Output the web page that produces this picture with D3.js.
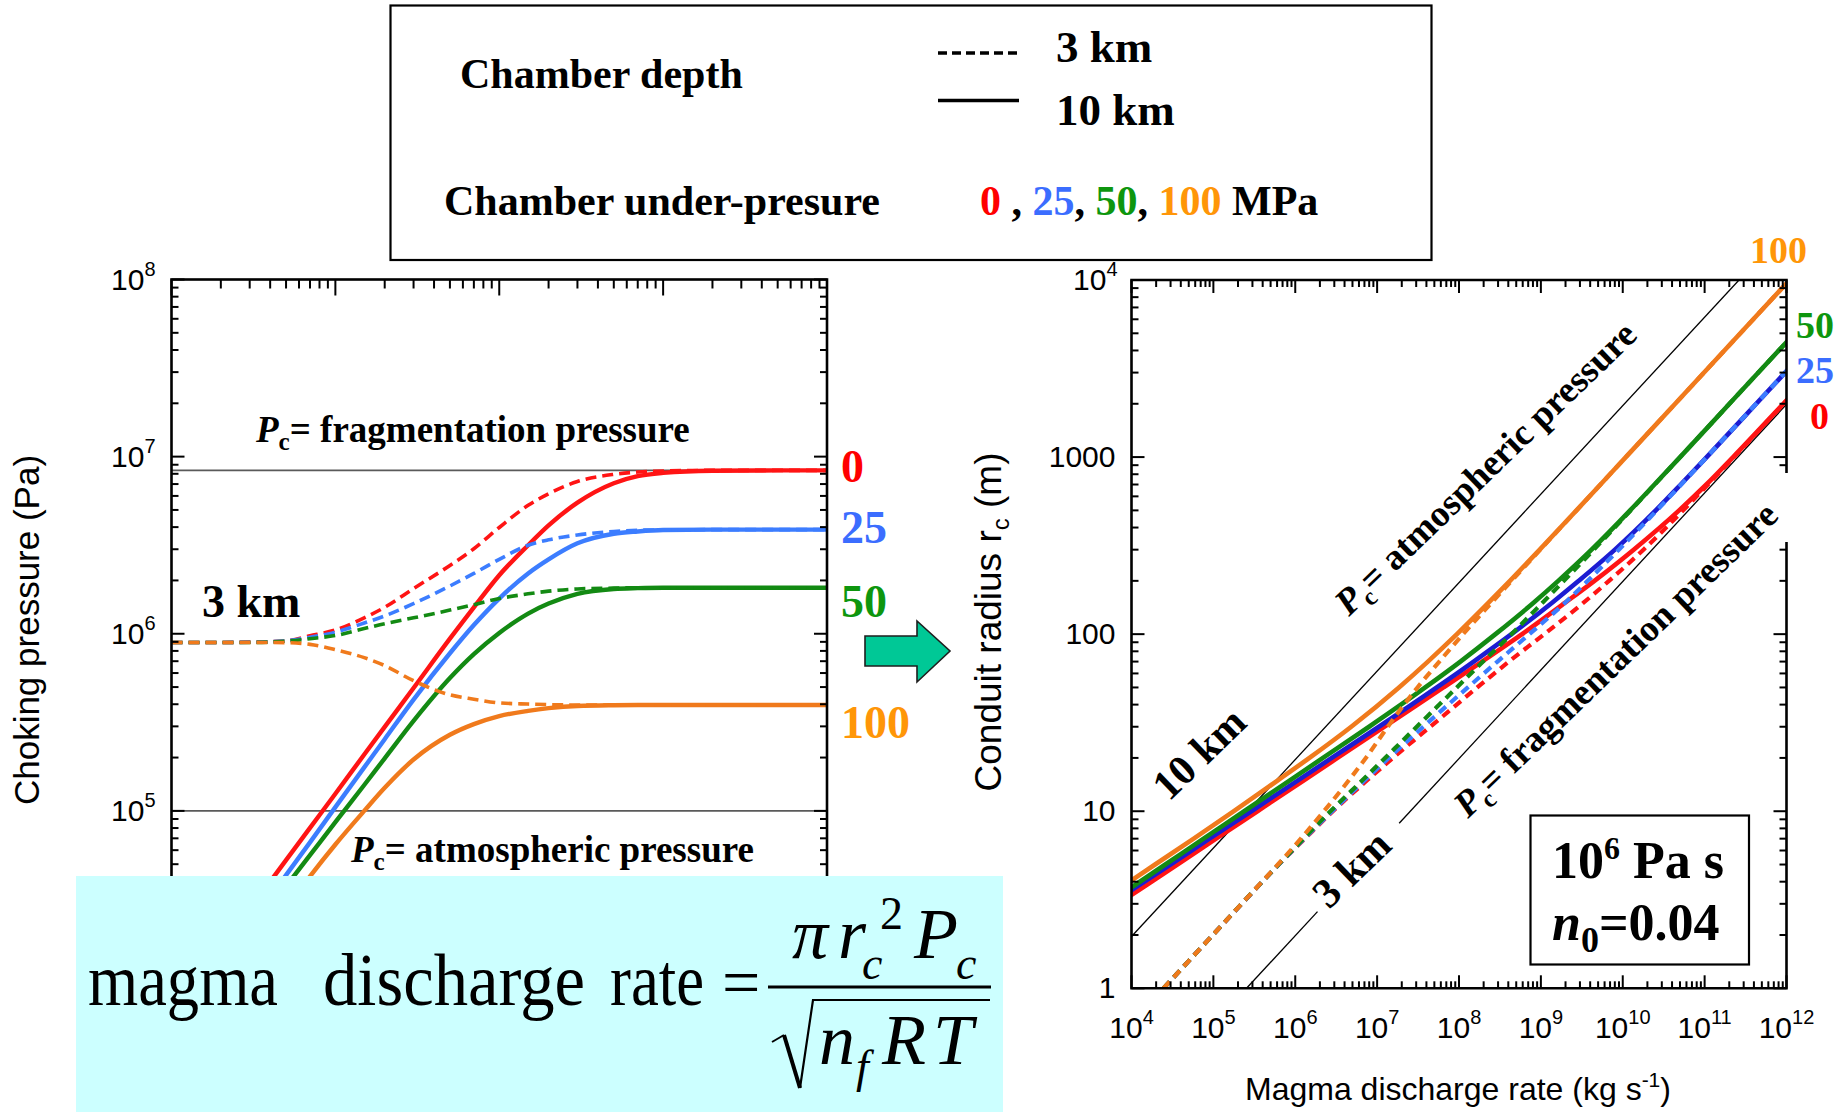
<!DOCTYPE html>
<html>
<head>
<meta charset="utf-8">
<script src="https://cdn.jsdelivr.net/npm/d3@7"></script>
<style>
  html, body { margin: 0; padding: 0; background: #ffffff; }
  svg { display: block; }
</style>
</head>
<body>
<svg id="fig" width="1843" height="1112"></svg>
<script>
// ---------------------------------------------------------------
// Data
// ---------------------------------------------------------------
// Conduit radius grid (m) shared by every curve
const radiusGrid = [1, 2, 3, 5, 7, 10, 15, 20, 30, 50, 70, 100, 150, 200, 300, 500, 700, 1000, 2000, 5000, 10000];

// Chamber under-pressure levels (MPa)
const underPressures = [0, 25, 50, 100];

// Choking pressure Pc (Pa) versus conduit radius, chamber depth 10 km
const pc10km_0   = [null, 1.67e4, 2.78e4, 5.27e4, 8.02e4, 1.25e5, 2.08e5, 2.98e5, 4.94e5, 9.38e5, 1.41e6, 2.14e6, 3.16e6, 4.09e6, 5.50e6, 7.08e6, 7.76e6, 8.09e6, 8.32e6, 8.36e6, 8.36e6];
const pc10km_25  = [null, 1.35e4, 2.26e4, 4.34e4, 6.64e4, 1.05e5, 1.76e5, 2.54e5, 4.25e5, 7.76e5, 1.12e6, 1.58e6, 2.19e6, 2.63e6, 3.24e6, 3.67e6, 3.78e6, 3.85e6, 3.87e6, 3.87e6, 3.87e6];
const pc10km_50  = [null, 1.25e4, 2.03e4, 3.76e4, 5.62e4, 8.63e4, 1.40e5, 1.98e5, 3.22e5, 5.62e5, 7.67e5, 1.01e6, 1.30e6, 1.48e6, 1.68e6, 1.79e6, 1.81e6, 1.82e6, 1.82e6, 1.82e6, 1.82e6];
const pc10km_100 = [null, 8.90e3, 1.51e4, 2.82e4, 4.27e4, 6.46e4, 1.00e5, 1.35e5, 1.95e5, 2.69e5, 3.09e5, 3.43e5, 3.67e5, 3.80e5, 3.91e5, 3.95e5, 3.96e5, 3.96e5, 3.96e5, 3.96e5, 3.96e5];

// Choking pressure Pc (Pa) versus conduit radius, chamber depth 3 km
const pc3km_0   = [8.93e5, 8.93e5, 8.97e5, 9.12e5, 9.73e5, 1.05e6, 1.23e6, 1.41e6, 1.80e6, 2.43e6, 3.02e6, 3.98e6, 5.31e6, 6.17e6, 7.24e6, 7.94e6, 8.18e6, 8.30e6, 8.36e6, 8.36e6, 8.36e6];
const pc3km_25  = [8.93e5, 8.93e5, 8.95e5, 9.12e5, 9.55e5, 1.02e6, 1.15e6, 1.26e6, 1.48e6, 1.86e6, 2.19e6, 2.63e6, 3.16e6, 3.39e6, 3.61e6, 3.78e6, 3.84e6, 3.86e6, 3.87e6, 3.87e6, 3.87e6];
const pc3km_50  = [8.93e5, 8.93e5, 8.93e5, 9.08e5, 9.38e5, 9.77e5, 1.07e6, 1.14e6, 1.23e6, 1.36e6, 1.46e6, 1.58e6, 1.68e6, 1.74e6, 1.79e6, 1.81e6, 1.82e6, 1.82e6, 1.82e6, 1.82e6, 1.82e6];
const pc3km_100 = [8.93e5, 8.93e5, 8.93e5, 8.91e5, 8.71e5, 8.13e5, 7.33e5, 6.61e5, 5.43e5, 4.52e5, 4.27e5, 4.07e5, 4.01e5, 3.98e5, 3.96e5, 3.96e5, 3.96e5, 3.96e5, 3.96e5, 3.96e5, 3.96e5];

// Magma discharge rate (kg/s) at each conduit radius, chamber depth 10 km
const rate10km_0   = [null, 1.85e3, 6.89e3, 3.63e4, 1.08e5, 3.45e5, 1.29e6, 3.28e6, 1.22e7, 6.46e7, 1.91e8, 5.89e8, 1.96e9, 4.51e9, 1.36e10, 4.88e10, 1.05e11, 2.23e11, 9.16e11, 5.75e12, null];
const rate10km_25  = [null, 1.49e3, 5.61e3, 2.99e4, 8.95e4, 2.90e5, 1.09e6, 2.79e6, 1.05e7, 5.35e7, 1.51e8, 4.37e8, 1.36e9, 2.90e9, 8.02e9, 2.53e10, 5.11e10, 1.06e11, 4.27e11, 2.67e12, null];
const rate10km_50  = [null, 1.38e3, 5.04e3, 2.59e4, 7.59e4, 2.38e5, 8.69e5, 2.18e6, 7.98e6, 3.87e7, 1.04e8, 2.79e8, 8.07e8, 1.63e9, 4.16e9, 1.23e10, 2.44e10, 5.02e10, 2.01e11, 1.26e12, null];
const rate10km_100 = [null, null, 3.75e3, 1.94e4, 5.75e4, 1.78e5, 6.19e5, 1.49e6, 4.83e6, 1.85e7, 4.17e7, 9.44e7, 2.28e8, 4.19e8, 9.68e8, 2.72e9, 5.35e9, 1.09e10, 4.37e10, 2.73e11, 1.09e12];

// Magma discharge rate (kg/s) at each conduit radius, chamber depth 3 km
const rate3km_0   = [2.46e4, 9.84e4, 2.22e5, 6.28e5, 1.31e6, 2.88e6, 7.62e6, 1.56e7, 4.46e7, 1.67e8, 4.07e8, 1.10e9, 3.29e9, 6.79e9, 1.79e10, 5.47e10, 1.10e11, 2.29e11, 9.20e11, 5.75e12, null];
const rate3km_25  = [2.46e4, 9.84e4, 2.22e5, 6.28e5, 1.29e6, 2.82e6, 7.11e6, 1.39e7, 3.66e7, 1.28e8, 2.95e8, 7.24e8, 1.96e9, 3.73e9, 8.95e9, 2.61e10, 5.18e10, 1.06e11, 4.27e11, 2.67e12, null];
const rate3km_50  = [2.46e4, 9.84e4, 2.21e5, 6.25e5, 1.26e6, 2.69e6, 6.64e6, 1.25e7, 3.05e7, 9.40e7, 1.97e8, 4.37e8, 1.04e9, 1.91e9, 4.43e9, 1.25e10, 2.46e10, 5.02e10, 2.01e11, 1.26e12, null];
const rate3km_100 = [2.46e4, 9.84e4, 2.21e5, 6.14e5, 1.17e6, 2.24e6, 4.54e6, 7.28e6, 1.35e7, 3.11e7, 5.75e7, 1.12e8, 2.48e8, 4.39e8, 9.82e8, 2.73e9, 5.35e9, 1.09e10, 4.37e10, 2.73e11, 1.09e12];

// Reference pressures (Pa)
const fragmentationPressure = 8.36e6;
const atmosphericPressure = 1e5;

// Reference lines in the radius / discharge-rate plane
const atmLineRate = [1e4, 2.63e11];
const atmLineRadius = [1.96, 1e4];
const fragLineRate = [2.54e5, 1.87e6, 1.86e7, 1e12];
const fragLineRadius = [1, 2.71, 8.55, 1984];

// Axis tick exponents
const leftYExponents = [5, 6, 7, 8];
const rightXExponents = [4, 5, 6, 7, 8, 9, 10, 11, 12];
const rightYLabels = ["1", "10", "100", "1000"];

// ---------------------------------------------------------------
// Styling
// ---------------------------------------------------------------
const SERIF = '"Liberation Serif","Times New Roman",Times,serif';
const SANS = '"Liberation Sans",Arial,Helvetica,sans-serif';

const lineColor = { 0: "#ff1414", 25: "#3c7dff", 50: "#138a13", 100: "#f07a1c" };
const lineColorRight = { 0: "#ff1414", 25: "#1c1cd2", 50: "#138a13", 100: "#f07a1c" };
const dashColorRight = { 0: "#ff1414", 25: "#3c7dff", 50: "#138a13", 100: "#f07a1c" };
const labelColor = { 0: "#ff0000", 25: "#3b6dff", 50: "#0e960e", 100: "#ff9608" };

const series = [
  { depth: 10, mpa: 0,   pc: pc10km_0,   rate: rate10km_0 },
  { depth: 10, mpa: 25,  pc: pc10km_25,  rate: rate10km_25 },
  { depth: 10, mpa: 50,  pc: pc10km_50,  rate: rate10km_50 },
  { depth: 10, mpa: 100, pc: pc10km_100, rate: rate10km_100 },
  { depth: 3,  mpa: 0,   pc: pc3km_0,    rate: rate3km_0 },
  { depth: 3,  mpa: 25,  pc: pc3km_25,   rate: rate3km_25 },
  { depth: 3,  mpa: 50,  pc: pc3km_50,   rate: rate3km_50 },
  { depth: 3,  mpa: 100, pc: pc3km_100,  rate: rate3km_100 }
];

// ---------------------------------------------------------------
// Layout and scales
// ---------------------------------------------------------------
const svg = d3.select("#fig");

const L = { x0: 171.5, x1: 827, y0: 279.5, y1: 988 };
const R = { x0: 1131.5, x1: 1786.5, y0: 280, y1: 988.3 };

const xL = d3.scaleLog().domain([1, 1e4]).range([L.x0, L.x1]);
const yL = d3.scaleLog().domain([1e4, 1e8]).range([L.y1, L.y0]);
const xR = d3.scaleLog().domain([1e4, 1e12]).range([R.x0, R.x1]);
const yR = d3.scaleLog().domain([1, 1e4]).range([R.y1, R.y0]);

const defs = svg.append("defs");
defs.append("clipPath").attr("id", "clipL").append("rect")
  .attr("x", L.x0).attr("y", L.y0).attr("width", L.x1 - L.x0).attr("height", L.y1 - L.y0);
defs.append("clipPath").attr("id", "clipR").append("rect")
  .attr("x", R.x0).attr("y", R.y0).attr("width", R.x1 - R.x0).attr("height", R.y1 - R.y0);

const isDecade = v => Math.abs(Math.log10(v) - Math.round(Math.log10(v))) < 1e-6;

// Inward tick marks along one side of a frame
function ticks(g, scale, side, pos, majorLen, minorLen, skip) {
  const vals = scale.ticks(40);
  vals.forEach(v => {
    const p = scale(v);
    if (skip && skip(p)) return;
    const len = isDecade(v) ? majorLen : minorLen;
    let x1, y1, x2, y2;
    if (side === "top")    { x1 = x2 = p; y1 = pos; y2 = pos + len; }
    if (side === "bottom") { x1 = x2 = p; y1 = pos; y2 = pos - len; }
    if (side === "left")   { y1 = y2 = p; x1 = pos; x2 = pos + len; }
    if (side === "right")  { y1 = y2 = p; x1 = pos; x2 = pos - len; }
    g.append("line").attr("x1", x1).attr("y1", y1).attr("x2", x2).attr("y2", y2)
      .attr("stroke", "#000").attr("stroke-width", 2);
  });
}

// "10^n" label with a raised exponent
function powerLabel(g, x, y, exp, anchor) {
  const t = g.append("text").attr("x", x).attr("y", y)
    .attr("font-family", SANS).attr("font-size", 30).attr("text-anchor", anchor).attr("fill", "#000");
  t.append("tspan").text("10");
  t.append("tspan").attr("font-size", 20).attr("dy", -14).text(exp);
  return t;
}

// ---------------------------------------------------------------
// Left panel: choking pressure vs conduit radius
// ---------------------------------------------------------------
const gL = svg.append("g");

// reference pressure levels
gL.append("line").attr("x1", L.x0).attr("x2", L.x1)
  .attr("y1", yL(fragmentationPressure)).attr("y2", yL(fragmentationPressure))
  .attr("stroke", "#5a5a5a").attr("stroke-width", 1.6);
gL.append("line").attr("x1", L.x0).attr("x2", L.x1)
  .attr("y1", yL(atmosphericPressure)).attr("y2", yL(atmosphericPressure))
  .attr("stroke", "#5a5a5a").attr("stroke-width", 1.6);

const lineL = d3.line()
  .defined(d => d.pc != null)
  .x(d => xL(d.r)).y(d => yL(d.pc))
  .curve(d3.curveMonotoneX);

const curvesL = gL.append("g").attr("clip-path", "url(#clipL)");
[10, 3].forEach(depth => {
  series.filter(s => s.depth === depth).forEach(s => {
    const pts = radiusGrid.map((r, i) => ({ r, pc: s.pc[i] }));
    curvesL.append("path").datum(pts).attr("d", lineL)
      .attr("fill", "none").attr("stroke", lineColor[s.mpa])
      .attr("stroke-width", depth === 10 ? 4.4 : 3.6)
      .attr("stroke-dasharray", depth === 3 ? "11,6" : null);
  });
});

// frame and ticks
gL.append("rect").attr("x", L.x0).attr("y", L.y0).attr("width", L.x1 - L.x0).attr("height", L.y1 - L.y0)
  .attr("fill", "none").attr("stroke", "#000").attr("stroke-width", 2.6);
ticks(gL, xL, "top", L.y0, 16, 9);
ticks(gL, xL, "bottom", L.y1, 14, 8);
ticks(gL, yL, "left", L.x0, 13, 7);
ticks(gL, yL, "right", L.x1, 13, 7);

leftYExponents.forEach(e => powerLabel(gL, L.x0 - 16, yL(Math.pow(10, e)) + 10, e, "end"));

gL.append("text").attr("transform", "translate(39,630) rotate(-90)")
  .attr("font-family", SANS).attr("font-size", 35).attr("text-anchor", "middle")
  .text("Choking pressure (Pa)");

// curve-end labels
const leftLabelY = { 0: 482, 25: 543, 50: 617, 100: 738 };
underPressures.forEach(p => {
  gL.append("text").attr("x", 841).attr("y", leftLabelY[p])
    .attr("font-family", SERIF).attr("font-weight", "bold").attr("font-size", 46)
    .attr("fill", labelColor[p]).text(p);
});

gL.append("text").attr("x", 202).attr("y", 617)
  .attr("font-family", SERIF).attr("font-weight", "bold").attr("font-size", 46).text("3 km");

function pcText(g, x, y, rest, size, transform) {
  const t = g.append("text").attr("font-family", SERIF).attr("font-weight", "bold").attr("font-size", size);
  if (transform) t.attr("transform", transform); else t.attr("x", x).attr("y", y);
  t.append("tspan").attr("font-style", "italic").text("P");
  t.append("tspan").attr("font-size", size * 0.68).attr("dy", size * 0.22).text("c");
  t.append("tspan").attr("dy", -size * 0.22).text(rest);
  return t;
}
pcText(gL, 256, 442, "= fragmentation pressure", 37);
pcText(gL, 351, 862, "= atmospheric pressure", 37);

// ---------------------------------------------------------------
// Right panel: conduit radius vs magma discharge rate
// ---------------------------------------------------------------
const gR = svg.append("g");
const refR = gR.append("g").attr("clip-path", "url(#clipR)");

const refLine = d3.line().x(d => xR(d[0])).y(d => yR(d[1]));
refR.append("path").datum(atmLineRate.map((v, i) => [v, atmLineRadius[i]])).attr("d", refLine)
  .attr("fill", "none").attr("stroke", "#000").attr("stroke-width", 1.3);
[[0, 1], [2, 3]].forEach(seg => {
  refR.append("path").datum(seg.map(i => [fragLineRate[i], fragLineRadius[i]])).attr("d", refLine)
    .attr("fill", "none").attr("stroke", "#000").attr("stroke-width", 1.3);
});

const lineR = d3.line()
  .defined(d => d.rate != null)
  .x(d => xR(d.rate)).y(d => yR(d.r))
  .curve(d3.curveMonotoneX);

const curvesR = gR.append("g").attr("clip-path", "url(#clipR)");
[10, 3].forEach(depth => {
  series.filter(s => s.depth === depth).forEach(s => {
    const pts = radiusGrid.map((r, i) => ({ r, rate: s.rate[i] }));
    curvesR.append("path").datum(pts).attr("d", lineR)
      .attr("fill", "none")
      .attr("stroke", depth === 10 ? lineColorRight[s.mpa] : dashColorRight[s.mpa])
      .attr("stroke-width", depth === 10 ? 4.6 : 4.2)
      .attr("stroke-dasharray", depth === 3 ? "9,6" : null);
  });
});

// frame (right edge interrupted where the rotated label crosses it)
const gapTop = 473, gapBottom = 542;
gR.append("path")
  .attr("d", `M${R.x1},${gapTop} L${R.x1},${R.y0} L${R.x0},${R.y0} L${R.x0},${R.y1} L${R.x1},${R.y1} L${R.x1},${gapBottom}`)
  .attr("fill", "none").attr("stroke", "#000").attr("stroke-width", 2.6);
ticks(gR, xR, "top", R.y0, 13, 7);
ticks(gR, xR, "bottom", R.y1, 13, 7);
ticks(gR, yR, "left", R.x0, 13, 7);
ticks(gR, yR, "right", R.x1, 13, 7, p => p > gapTop - 2 && p < gapBottom + 2);

rightXExponents.forEach(e => powerLabel(gR, xR(Math.pow(10, e)), 1038, e, "middle"));
rightYLabels.forEach(lbl => {
  gR.append("text").attr("x", R.x0 - 16).attr("y", yR(+lbl) + 10)
    .attr("font-family", SANS).attr("font-size", 30).attr("text-anchor", "end").text(lbl);
});
powerLabel(gR, R.x0 - 14, yR(1e4) + 10, 4, "end");

gR.append("text").attr("x", 1458).attr("y", 1100)
  .attr("font-family", SANS).attr("font-size", 32).attr("text-anchor", "middle")
  .call(t => {
    t.append("tspan").text("Magma discharge rate (kg s");
    t.append("tspan").attr("font-size", 21).attr("dy", -13).text("-1");
    t.append("tspan").attr("dy", 13).text(")");
  });

gR.append("text").attr("transform", "translate(1001,622) rotate(-90)")
  .attr("font-family", SANS).attr("font-size", 37).attr("text-anchor", "middle")
  .call(t => {
    t.append("tspan").text("Conduit radius r");
    t.append("tspan").attr("font-size", 24).attr("dy", 8).text("c");
    t.append("tspan").attr("dy", -8).text(" (m)");
  });

// curve-end labels outside the frame
const rightLabels = [
  { p: 100, x: 1750, y: 263 },
  { p: 50,  x: 1796, y: 338 },
  { p: 25,  x: 1796, y: 383 },
  { p: 0,   x: 1810, y: 429 }
];
rightLabels.forEach(d => {
  gR.append("text").attr("x", d.x).attr("y", d.y)
    .attr("font-family", SERIF).attr("font-weight", "bold").attr("font-size", 38)
    .attr("fill", labelColor[d.p]).text(d.p);
});

pcText(gR, 0, 0, "= atmospheric pressure", 37, "translate(1349,617) rotate(-44)");
pcText(gR, 0, 0, "= fragmentation pressure", 37, "translate(1468,819) rotate(-44)");

gR.append("text").attr("transform", "translate(1169,802) rotate(-44)")
  .attr("font-family", SERIF).attr("font-weight", "bold").attr("font-size", 42).text("10 km");
gR.append("text").attr("transform", "translate(1329,910) rotate(-44)")
  .attr("font-family", SERIF).attr("font-weight", "bold").attr("font-size", 42).text("3 km");

// parameter box
gR.append("rect").attr("x", 1530.5).attr("y", 815.5).attr("width", 218.5).attr("height", 149)
  .attr("fill", "#fff").attr("stroke", "#000").attr("stroke-width", 2.2);
gR.append("text").attr("x", 1552).attr("y", 878)
  .attr("font-family", SERIF).attr("font-weight", "bold").attr("font-size", 52)
  .call(t => {
    t.append("tspan").text("10");
    t.append("tspan").attr("font-size", 32).attr("dy", -19).text("6");
    t.append("tspan").attr("dy", 19).text(" Pa s");
  });
gR.append("text").attr("x", 1552).attr("y", 940)
  .attr("font-family", SERIF).attr("font-weight", "bold").attr("font-size", 52)
  .call(t => {
    t.append("tspan").attr("font-style", "italic").text("n");
    t.append("tspan").attr("font-size", 36).attr("dy", 12).text("0");
    t.append("tspan").attr("dy", -12).text("=0.04");
  });

// ---------------------------------------------------------------
// Legend
// ---------------------------------------------------------------
const gLeg = svg.append("g");
gLeg.append("rect").attr("x", 390.5).attr("y", 5.5).attr("width", 1041).attr("height", 254.5)
  .attr("fill", "#fff").attr("stroke", "#000").attr("stroke-width", 2.2);
const legText = (x, y, s, size) => gLeg.append("text").attr("x", x).attr("y", y)
  .attr("font-family", SERIF).attr("font-weight", "bold").attr("font-size", size || 42).text(s);
legText(460, 88, "Chamber depth");
legText(1056, 62, "3 km", 45);
legText(1056, 125, "10 km", 45);
legText(444, 215, "Chamber under-presure");
gLeg.append("line").attr("x1", 938).attr("x2", 1019).attr("y1", 53).attr("y2", 53)
  .attr("stroke", "#000").attr("stroke-width", 3.5).attr("stroke-dasharray", "9,5");
gLeg.append("line").attr("x1", 938).attr("x2", 1019).attr("y1", 100.5).attr("y2", 100.5)
  .attr("stroke", "#000").attr("stroke-width", 3.5);
gLeg.append("text").attr("x", 980).attr("y", 215)
  .attr("font-family", SERIF).attr("font-weight", "bold").attr("font-size", 42)
  .call(t => {
    underPressures.forEach((p, i) => {
      t.append("tspan").attr("fill", labelColor[p]).text(p);
      if (i === 0) t.append("tspan").attr("fill", "#000").text(" , ");
      else if (i < underPressures.length - 1) t.append("tspan").attr("fill", "#000").text(", ");
    });
    t.append("tspan").attr("fill", "#000").text(" MPa");
  });

// ---------------------------------------------------------------
// Arrow between the panels
// ---------------------------------------------------------------
svg.append("polygon")
  .attr("points", "865,636 917,636 917,621 950,651 917,682 917,666 865,666")
  .attr("fill", "#00c896").attr("stroke", "#1e1e1e").attr("stroke-width", 1.6);

// ---------------------------------------------------------------
// Discharge-rate relation
// ---------------------------------------------------------------
const gEq = svg.append("g");
gEq.append("rect").attr("x", 76).attr("y", 876).attr("width", 927).attr("height", 236).attr("fill", "#ccffff");

const eqWord = (x, w, s) => gEq.append("text").attr("x", x).attr("y", 1005)
  .attr("font-family", SERIF).attr("font-size", 74)
  .attr("textLength", w).attr("lengthAdjust", "spacingAndGlyphs").text(s);
eqWord(88, 190, "magma");
eqWord(323, 262, "discharge");
eqWord(610, 94, "rate");
gEq.append("text").attr("x", 722).attr("y", 1005).attr("font-family", SERIF).attr("font-size", 68).text("=");

gEq.append("line").attr("x1", 768).attr("x2", 991).attr("y1", 987).attr("y2", 987)
  .attr("stroke", "#000").attr("stroke-width", 3);

const eqPart = (x, y, s, size, italic) => gEq.append("text").attr("x", x).attr("y", y)
  .attr("font-family", SERIF).attr("font-size", size).attr("font-style", italic ? "italic" : "normal").text(s);
// numerator
eqPart(792, 958, "\u03c0", 72, true);
eqPart(838, 958, "r", 72, true);
eqPart(862, 979, "c", 46, true);
eqPart(880, 929, "2", 46, false);
eqPart(914, 958, "P", 72, true);
eqPart(956, 979, "c", 46, true);
// denominator
eqPart(819, 1064, "n", 72, true);
eqPart(856, 1082, "f", 46, true);
eqPart(882, 1064, "R", 72, true);
eqPart(933, 1064, "T", 72, true);
gEq.append("path").attr("d", "M772,1042 L784,1035").attr("stroke", "#000").attr("stroke-width", 2).attr("fill", "none");
gEq.append("path").attr("d", "M784,1035 L800,1088").attr("stroke", "#000").attr("stroke-width", 4).attr("fill", "none");
gEq.append("path").attr("d", "M800,1088 L813,1000 L990,1000").attr("stroke", "#000").attr("stroke-width", 2.2).attr("fill", "none");
</script>
</body>
</html>
